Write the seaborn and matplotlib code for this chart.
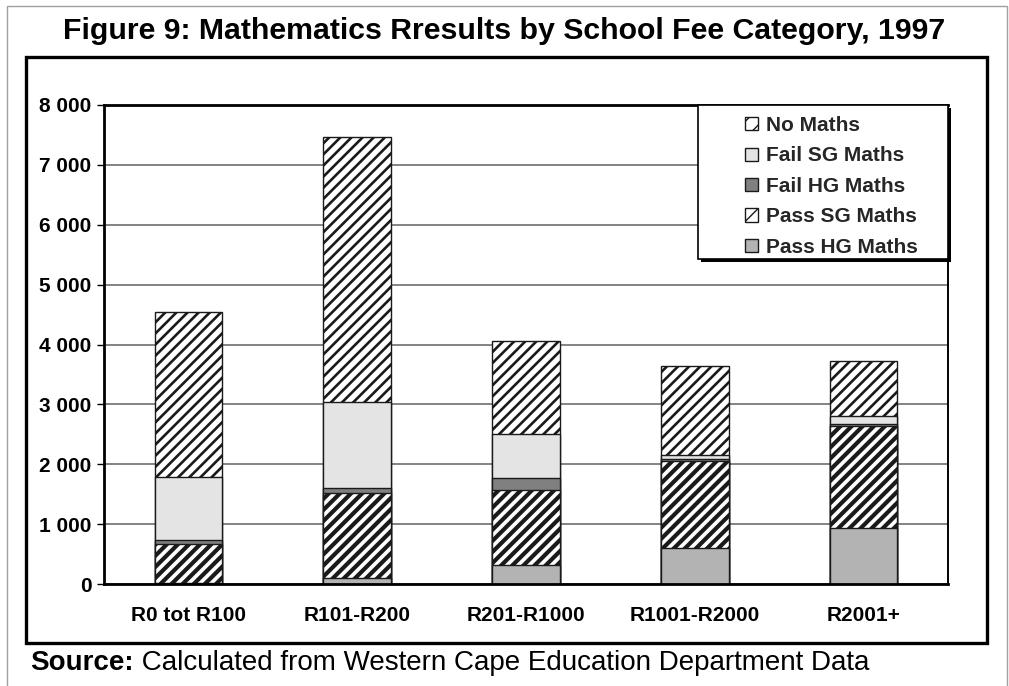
import matplotlib
matplotlib.use("Agg")
import matplotlib.pyplot as plt
import seaborn as sns
import pandas as pd
from matplotlib.patches import Rectangle
from matplotlib.ticker import FuncFormatter

# ---------------- data ----------------
categories = ["R0 tot R100", "R101-R200", "R201-R1000", "R1001-R2000", "R2001+"]
pass_hg = [15, 95, 315, 600, 940]
pass_sg = [660, 1425, 1260, 1450, 1695]
fail_hg = [60, 85, 195, 30, 40]
fail_sg = [1050, 1430, 735, 80, 125]
no_maths = [2765, 4430, 1550, 1480, 920]
series_names = ["Pass HG Maths", "Pass SG Maths", "Fail HG Maths", "Fail SG Maths", "No Maths"]
y_ticks = [0, 1000, 2000, 3000, 4000, 5000, 6000, 7000, 8000]

title = "Figure 9: Mathematics Rresults by School Fee Category, 1997"
source_bold = "Source:"
source_text = " Calculated from Western Cape Education Department Data"

# ---------------- style ----------------
sns.set_theme(style="white")
plt.rcParams['font.family'] = ['Liberation Sans', 'DejaVu Sans']

df = pd.DataFrame({"category": categories,
                   "Pass HG Maths": pass_hg,
                   "Pass SG Maths": pass_sg,
                   "Fail HG Maths": fail_hg,
                   "Fail SG Maths": fail_sg,
                   "No Maths": no_maths})
stack = df[series_names].cumsum(axis=1)

styles = {
    "Pass HG Maths": dict(face="#b3b3b3", hatch=None, hlw=1.0, lhlw=1.0),
    "Pass SG Maths": dict(face="white", hatch="///", hlw=3.0, lhlw=4.0),
    "Fail HG Maths": dict(face="#808080", hatch=None, hlw=1.0, lhlw=1.0),
    "Fail SG Maths": dict(face="#e4e4e4", hatch=None, hlw=1.0, lhlw=1.0),
    "No Maths": dict(face="white", hatch="///", hlw=1.9, lhlw=1.6),
}

fig = plt.figure(figsize=(10.09, 6.86), dpi=100)
fig.patch.set_facecolor("white")

# outer thin border and thick black frame
fig.patches.append(Rectangle((7 / 1009, -0.01), 1000 / 1009, 1 - 6 / 686 + 0.01,
                             transform=fig.transFigure, fill=False,
                             edgecolor="#a0a0a0", lw=1.0, zorder=0))
fig.patches.append(Rectangle((26 / 1009, 1 - 643 / 686), 961 / 1009, 586 / 686,
                             transform=fig.transFigure, fill=False,
                             edgecolor="black", lw=2.4, zorder=0))

ax = fig.add_axes([104 / 1009, 1 - 584 / 686, 844 / 1009, 479 / 686])

legend_handles = {}
for name in reversed(series_names):
    st = styles[name]
    n0 = len(ax.patches)
    with plt.rc_context({'hatch.linewidth': st["hlw"], 'hatch.color': 'black'}):
        sns.barplot(data=pd.DataFrame({"category": categories, "value": stack[name]}),
                    x="category", y="value", order=categories,
                    color=st["face"], saturation=1, width=0.4,
                    edgecolor="#1a1a1a", linewidth=1.0,
                    hatch=st["hatch"], errorbar=None, ax=ax, zorder=2)
        for p in ax.patches[n0:]:
            if hasattr(p, "set_hatch_linewidth"):
                p.set_hatch_linewidth(st["hlw"])
    with plt.rc_context({'hatch.linewidth': st["lhlw"], 'hatch.color': 'black'}):
        h = Rectangle((0, 0), 1, 1, facecolor=st["face"], edgecolor="#1a1a1a",
                      lw=1.0, hatch=("//" if st["hatch"] else None))
        if hasattr(h, "set_hatch_linewidth"):
            h.set_hatch_linewidth(st["lhlw"])
    legend_handles[name] = h

ax.set_ylim(0, 8000)
ax.set_xlim(-0.5, len(categories) - 0.5)
ax.set_yticks(y_ticks)
ax.yaxis.set_major_formatter(FuncFormatter(lambda v, p: f"{int(v):,}".replace(",", " ")))
ax.set_xlabel("")
ax.set_ylabel("")
ax.set_axisbelow(True)
ax.yaxis.grid(True, color="#7a7a7a", lw=1.3)
ax.xaxis.grid(False)
for s in ax.spines.values():
    s.set_visible(True)
    s.set_color("black")
    s.set_linewidth(2.0)
ax.spines["right"].set_linewidth(1.4)

ax.tick_params(axis="y", direction="out", length=5, width=1, color="black",
               pad=4, left=True)
ax.tick_params(axis="x", length=0, pad=16)
for lab in ax.get_yticklabels() + ax.get_xticklabels():
    lab.set_fontsize(15)
    lab.set_fontweight("bold")
    lab.set_color("black")

# legend box with shadow
lx0 = (698 - 104) / 844
ly0 = (584 - 259) / 479
sh = Rectangle((lx0 + 3 / 844, ly0 - 3 / 479), 1 - lx0, 1 - ly0, transform=ax.transAxes,
               facecolor="black", edgecolor="black", lw=0, zorder=5, clip_on=False)
box = Rectangle((lx0, ly0), 1 - lx0, 1 - ly0, transform=ax.transAxes,
                facecolor="white", edgecolor="black", lw=1.2, zorder=6, clip_on=False)
ax.add_patch(sh)
ax.add_patch(box)

order = list(reversed(series_names))
leg = ax.legend([legend_handles[n] for n in order], order,
                loc="upper left", bbox_to_anchor=((745 - 104) / 844, (584 - 116) / 479),
                frameon=False, borderpad=0, borderaxespad=0,
                handlelength=0.6, handleheight=0.6, handletextpad=0.4,
                labelspacing=0.55, prop={"size": 15, "weight": "bold"})
leg.set_zorder(7)

# title and source
fig.text(0.5, 1 - 31 / 686, title, ha="center", va="center",
         fontsize=21.8, fontweight="bold", color="black")
t1 = fig.text(30 / 1009, 1 - 663 / 686, source_bold, ha="left", va="center",
              fontsize=20, fontweight="bold", color="black")
fig.canvas.draw()
bb = t1.get_window_extent(renderer=fig.canvas.get_renderer())
fig.text(bb.x1 / fig.bbox.width, 1 - 663 / 686, source_text, ha="left", va="center",
         fontsize=20, color="black")

fig.savefig("out.png", dpi=100, facecolor="white")
